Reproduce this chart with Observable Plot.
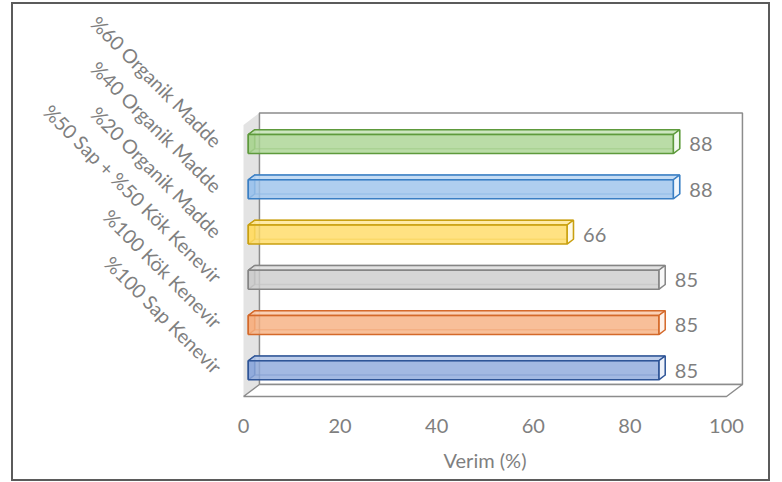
<!DOCTYPE html>
<html>
<head>
<meta charset="utf-8">
<script src="https://cdn.jsdelivr.net/npm/d3@7"></script>
<script src="https://cdn.jsdelivr.net/npm/@observablehq/plot@0.6"></script>
<style>
  html, body { margin: 0; background: #fff; }
  #wrap { position: relative; width: 782px; height: 482px; }
  #wrap svg { position: absolute; left: 0; top: 0; }
  #border { position: absolute; left: 11px; top: 2px; width: 759px; height: 479px;
            border: 2px solid #5b5b5b; box-sizing: border-box; pointer-events: none; }
</style>
</head>
<body>
<div id="wrap"><div id="border"></div></div>
<script>
// Categories, bottom to top
const categories = [
  "%100 Sap Kenevir",
  "%100 Kök Kenevir",
  "%50 Sap + %50 Kök Kenevir",
  "%20 Organik Madde",
  "%40 Organik Madde",
  "%60 Organik Madde"
];
const values = [85, 85, 85, 66, 88, 88];
const xTicks = [0, 20, 40, 60, 80, 100];
const axisTitle = "Verim (%)";

// Bar palette (face fill, edge stroke)
const barFill   = ["#8faadc", "#f6b183", "#cdcdcd", "#ffdc66", "#9dc3ec", "#abd494"];
const barStroke = ["#2f5597", "#d4692a", "#858585", "#c9a010", "#3a7fc4", "#5e9a3c"];

// Oblique depth projection: z = 0 is the front plane, z = 1 the back wall
const DX = 3.3, DY = 0.265;
const HALF = 0.21, Z0 = 0.3, Z1 = 0.7;
const project = (x, y, z) => ({x: x + z * DX, y: y + z * DY});

function poly(key, pts, fill, stroke) {
  return pts.concat([pts[0]]).map(([x, y, z]) => ({key, fill, stroke, ...project(x, y, z)}));
}

const [xMin, xMax] = [xTicks[0], xTicks[xTicks.length - 1]];
const [yMin, yMax] = [-0.5, categories.length - 0.5];

const leftWall = poly("lw", [[xMin, yMin, 0], [xMin, yMax, 0], [xMin, yMax, 1], [xMin, yMin, 1]], "#e3e3e3", "none");
const backWall = poly("bw", [[xMin, yMin, 1], [xMax, yMin, 1], [xMax, yMax, 1], [xMin, yMax, 1]], "#ffffff", "#8c8c8c");
const floor    = poly("fl", [[xMin, yMin, 0], [xMax, yMin, 0], [xMax, yMin, 1], [xMin, yMin, 1]], "#ffffff", "#8c8c8c");

const backFaces = [], leftFaces = [], topFaces = [], rightFaces = [], frontFaces = [];
values.forEach((v, i) => {
  const y0 = i - HALF, y1 = i + HALF;
  const f = barFill[i], s = barStroke[i];
  const light = d3.interpolateRgb(f, "#ffffff")(0.35);
  const pale = d3.interpolateRgb(f, "#ffffff")(0.85);
  backFaces.push(...poly("b" + i, [[0, y0, Z1], [v, y0, Z1], [v, y1, Z1], [0, y1, Z1]], "none", s));
  leftFaces.push(...poly("l" + i, [[0, y0, Z0], [0, y1, Z0], [0, y1, Z1], [0, y0, Z1]], f, s));
  topFaces.push(...poly("t" + i, [[0, y1, Z0], [v, y1, Z0], [v, y1, Z1], [0, y1, Z1]], light, s));
  rightFaces.push(...poly("r" + i, [[v, y0, Z0], [v, y1, Z0], [v, y1, Z1], [v, y0, Z1]], pale, s));
  frontFaces.push(...poly("f" + i, [[0, y0, Z0], [v, y0, Z0], [v, y1, Z0], [0, y1, Z0]], f, s));
});

const face = (data, extra = {}) => Plot.line(data, {
  x: "x", y: "y", z: "key", fill: "fill", stroke: "stroke",
  strokeWidth: 1.5, strokeLinejoin: "miter", strokeLinecap: "butt", ...extra
});

const chart = Plot.plot({
  width: 782,
  height: 482,
  marginLeft: 243,
  marginRight: 56,
  marginTop: 124.5,
  marginBottom: 86,
  x: {domain: [xMin, xMax], axis: null},
  y: {domain: [yMin, yMax], axis: null},
  color: {type: "identity"},
  style: {fontFamily: "Lato, 'Open Sans', sans-serif", fontSize: "20px", color: "#7f7f7f", background: "transparent", overflow: "visible"},
  marks: [
    face(leftWall, {strokeWidth: 0}),
    face(backWall),
    face(floor),
    face(backFaces, {strokeOpacity: 0.55}),
    face(leftFaces, {fillOpacity: 0.85}),
    face(topFaces, {fillOpacity: 0.9}),
    face(rightFaces),
    face(frontFaces, {fillOpacity: 0.82}),
    Plot.text(values, {
      x: d => d + Z0 * DX, y: (d, i) => i + Z0 * DY,
      text: d => String(d), textAnchor: "start", dx: 16, dy: 1,
      fill: "#7f7f7f", fontSize: 20
    }),
    Plot.text(categories, {
      x: xMin, y: (d, i) => i, text: d => d, rotate: 45,
      textAnchor: "end", dx: -26, dy: -3, fill: "#7f7f7f", fontSize: 19.5
    }),
    Plot.text(xTicks, {
      x: d => d, frameAnchor: "bottom", text: d => String(d),
      dy: 36, fill: "#7f7f7f", fontSize: 20
    }),
    Plot.text([axisTitle], {
      x: (xMin + xMax) / 2, frameAnchor: "bottom", text: d => d,
      dy: 71, fill: "#7f7f7f", fontSize: 20
    })
  ]
});

document.getElementById("wrap").insertBefore(chart, document.getElementById("border"));
</script>
</body>
</html>
